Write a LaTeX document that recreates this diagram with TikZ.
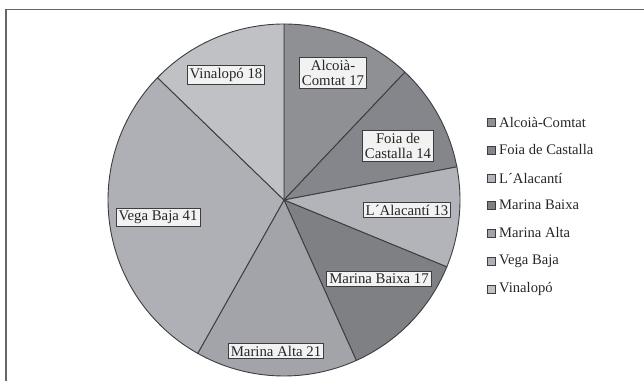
\documentclass[tikz,border=0pt]{standalone}
\usepackage{fontspec}
\setmainfont{Liberation Serif}
\definecolor{alcoia}{HTML}{8E9094}
\definecolor{foia}{HTML}{84868B}
\definecolor{alacanti}{HTML}{B2B4B9}
\definecolor{mbaixa}{HTML}{7E8084}
\definecolor{malta}{HTML}{A2A4AA}
\definecolor{vega}{HTML}{AEB0B6}
\definecolor{vinalopo}{HTML}{BFC1C5}
\definecolor{edge}{HTML}{3C3D40}
\tikzset{
  slicelbl/.style={draw=edge,fill=white!90!gray,line width=0.9pt,inner xsep=2.5pt,inner ysep=2.5pt,
    font=\fontsize{14.8}{15.5}\selectfont,align=center,text=black!85},
  legbox/.style={draw=edge,line width=0.8pt,minimum size=8pt,inner sep=0pt},
  legtxt/.style={anchor=west,inner sep=0pt,font=\fontsize{14.6}{15}\selectfont,text=black!85}
}
\begin{document}
\begin{tikzpicture}[x=1pt,y=1pt]
\useasboundingbox (0,0) rectangle (644,381);
% frame
\draw[line width=1.4pt,black!60] (6,0) -- (6,371.5) -- (644,371.5);
% pie
\coordinate (ctr) at (284,181);
\foreach \a/\b/\col in {90/46.596/alcoia, 46.596/10.851/foia, 10.851/-22.340/alacanti,
    -22.340/-65.745/mbaixa, -65.745/-119.362/malta, -119.362/-224.043/vega, -224.043/-270/vinalopo}{
  \filldraw[fill=\col,draw=edge,line width=0.9pt] (ctr) -- ++(\a:176) arc[start angle=\a,end angle=\b,radius=176] -- cycle;
}
% labels
\node[slicelbl] (alc) at (333,308) {Alcoià-\\Comtat 17};
\node[slicelbl] (foi) at (398,235) {Foia de\\Castalla 14};
\node[slicelbl] (ala) at (407,171) {L´Alacantí 13};
\node[slicelbl] (mbx) at (379,102) {Marina Baixa 17};
\node[slicelbl] (mal) at (276,30) {Marina Alta 21};
\node[slicelbl] (veg) at (158,164) {Vega Baja 41};
\node[slicelbl] (vin) at (226,306) {Vinalopó 18};
% legend
\foreach \y/\col/\txt [count=\i] in {259/alcoia/Alcoià-Comtat, 231/foia/Foia de Castalla,
    203/alacanti/L´Alacantí, 176/mbaixa/Marina Baixa, 148/malta/Marina Alta,
    120/vega/Vega Baja, 92/vinalopo/Vinalopó}{
  \node[legbox,fill=\col] (sq\i) at (491,\y) {};
  \node[legtxt] (lt\i) at (499,\y) {\txt};
}
\end{tikzpicture}
\end{document}
